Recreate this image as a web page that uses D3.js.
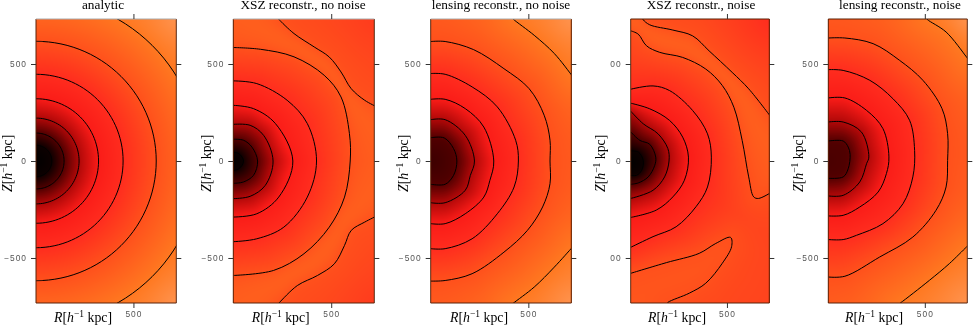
<!DOCTYPE html>
<html>
<head>
<meta charset="utf-8">
<script src="https://cdn.jsdelivr.net/npm/d3@7"></script>
<style>
body { margin: 0; background: #fff; }
canvas, svg { position: absolute; top: 0; left: 0; }
.tick text { font-family: "Liberation Sans", sans-serif; font-size: 8.4px; letter-spacing: 1px; fill: #555; }
.tick line { stroke: #333; }
.title, .lab { font-family: "Liberation Serif", serif; font-size: 13.3px; fill: #000; }
.lab { font-size: 13.8px; }
</style>
</head>
<body>
<script>
// titles and tick labels
var titles = ["analytic", "XSZ reconstr., no noise", "lensing reconstr., no noise", "XSZ reconstr., noise", "lensing reconstr., noise"];
var zTicks = [500, 0, -500];
var rTicks = [500];
var zLabelsOdd = ["00", "0", "00"];

// contour radii of the analytic panel, kpc
var analyticRadii = [81, 144, 221, 321, 447, 617, 843];

// contours as [R, Z] in kpc
var xszRings = [
    [[0, 45], [25, 40], [45, 20], [52, 0], [45, -22], [25, -42], [0, -48]],
    [[0, 112], [52, 107], [95, 72], [124, 0], [103, -74], [52, -108], [0, -115]],
    [[0, 189], [86, 184], [155, 132], [203, 0], [163, -126], [86, -182], [0, -194]],
    [[0, 287], [103, 270], [215, 193], [304, 0], [232, -186], [120, -272], [0, -289]],
    [[0, 413], [120, 399], [275, 313], [378, 193], [425, 0], [378, -186], [258, -341], [120, -401], [0, -416]],
    [[0, 585], [138, 576], [310, 537], [464, 442], [550, 330], [593, 141], [597, 0], [568, -186], [490, -341], [361, -478], [206, -564], [0, -590]]
];
var xszTop = [[225, 740], [232, 731], [310, 657], [413, 588], [490, 536], [550, 459], [602, 373], [671, 313], [735, 278]];
var xszBottom = [[735, -282], [671, -315], [602, -358], [568, -435], [516, -530], [430, -590], [327, -642], [232, -733], [225, -740]];

var lensRings = [
    [[0, 120], [69, 119], [117, 64], [134, 0], [117, -74], [74, -120], [0, -120]],
    [[0, 213], [74, 213], [177, 132], [224, 0], [203, -74], [177, -151], [74, -215], [0, -215]],
    [[0, 318], [74, 318], [177, 270], [272, 175], [323, 0], [303, -100], [272, -186], [177, -272], [74, -323], [0, -323]],
    [[0, 451], [74, 447], [212, 382], [341, 279], [435, 107], [449, 0], [427, -134], [341, -272], [212, -401], [74, -452], [0, -452]],
    [[0, 616], [74, 616], [220, 574], [375, 476], [504, 373], [581, 236], [611, 107], [611, 0], [611, -117], [573, -237], [495, -358], [375, -470], [212, -581], [74, -616], [0, -619]]
];
var lensTop = [[415, 740], [423, 731], [530, 648], [633, 554], [726, 437], [735, 425]];
var lensBottom = [[735, -434], [726, -444], [633, -547], [530, -650], [423, -733], [415, -740]];

var xszNoiseRings = [
    [[0, 52], [40, 46], [65, 3], [57, -48], [30, -74], [0, -74]],
    [[0, 150], [48, 106], [99, 86], [130, 20], [125, -22], [91, -82], [39, -113], [0, -120]],
    [[0, 257], [65, 192], [142, 140], [193, 64], [199, 0], [176, -82], [116, -151], [0, -193]],
    [[0, 298], [99, 269], [202, 209], [270, 123], [300, 20], [279, -99], [219, -185], [133, -253], [0, -291]],
    [[0, 370], [116, 387], [202, 363], [322, 260], [399, 140], [419, 20], [399, -134], [339, -236], [236, -339], [116, -390], [0, -445]]
];
var xszNoiseB = [[0, 671], [39, 654], [82, 594], [151, 560], [270, 534], [390, 474], [476, 389], [536, 277], [579, 106], [613, -82], [639, -185], [664, -193], [730, -162]];
var xszNoiseC = [[0, -579], [185, -524], [356, -476], [442, -425], [519, -394], [524, -442], [476, -527], [390, -630], [305, -681], [193, -729], [185, -740]];
var xszNoiseA = [[60, 740], [65, 728], [99, 702], [219, 675], [322, 645], [407, 568], [527, 457], [613, 372], [730, 225]];

var lensNoiseRings = [
    [[0, 103], [77, 103], [103, 72], [113, 34], [103, -40], [77, -82], [0, -89]],
    [[0, 201], [77, 201], [172, 149], [210, 21], [198, -14], [163, -108], [77, -177], [0, -180]],
    [[0, 325], [86, 325], [198, 261], [283, 167], [314, 21], [301, -65], [258, -160], [163, -237], [77, -280], [0, -283]],
    [[0, 471], [77, 467], [215, 416], [335, 321], [421, 210], [447, 55], [438, -82], [387, -220], [283, -323], [146, -383], [77, -405], [0, -405]],
    [[0, 634], [86, 634], [232, 605], [369, 519], [490, 416], [589, 270], [618, 141], [618, 3], [610, -134], [558, -254], [438, -392], [266, -495], [86, -594], [0, -598]]
];
var lensNoiseTop = [[505, 740], [512, 730], [610, 665], [716, 536], [730, 518]];
var lensNoiseBottom = [[730, -430], [716, -443], [627, -529], [524, -615], [373, -732], [360, -740]];

// colour at each contour level
var levels = [0, 1, 2, 3, 4, 5, 6, 7, 8];
var levelColors = ["#000000", "#0c0000", "#500000", "#b00808", "#fa1c18", "#ff2c1e", "#ff501c", "#ff7820", "#ff9450"];

// layout of the page
var lefts = [36, 233.3, 430.7, 630.7, 828.3];
var widths = [140.3, 141, 140.6, 138.6, 139];
var top0 = 19, bottom0 = 303;
var titleX = [103, 303, 501, 701, 900];
var zLabelX = [11.5, 211, 408, 605, 802.7];
var rLabelX = [54, 251.7, 450, 648, 845];
var edgeTop = ["#aaa", "#aaa", "#aaa", "#5a2208", "#5a2208"];

var color = d3.scaleLinear().domain(levels).range(levelColors);
var colorTable = d3.range(0, 801).map(function (i) { return d3.rgb(color(i / 100)); });

function halfCircle(r) {
    return d3.range(-90, 91, 3).map(function (a) {
        return [r * Math.cos(a * Math.PI / 180), r * Math.sin(a * Math.PI / 180)];
    });
}
function ring(pts, level) { return { level: level, ring: true, pieces: [{ pts: pts, poly: pts }] }; }
function piece(pts, close) { return { pts: pts, poly: pts.concat(close) }; }

var TR = [735, 740], BR = [735, -740];

var panels = [
    {
        contours: analyticRadii.map(function (r, i) { return ring(halfCircle(r), i + 1); }),
        center: 0, corner: 8
    },
    {
        contours: xszRings.map(function (p, i) { return ring(p, i + 1); }).concat([
            { level: 6, ridge: 0.35, pieces: [piece(xszTop, [TR]), piece(xszBottom, [BR])] }
        ]),
        center: 0, corner: 5.4
    },
    {
        contours: lensRings.map(function (p, i) { return ring(p, i + 2); }).concat([
            { level: 7, pieces: [piece(lensTop, [TR]), piece(lensBottom, [BR])] }
        ]),
        center: 1.7, corner: 8
    },
    {
        contours: xszNoiseRings.map(function (p, i) { return ring(p, i + 1); }).concat([
            { level: 6, pieces: [piece(xszNoiseB, [[730, 740], [-10, 740], [-10, 671]]), piece(xszNoiseC, [[-10, -740], [-10, -579]])] },
            { level: 6, ridge: 0.35, pieces: [piece(xszNoiseA, [[730, 740]])] }
        ]),
        center: 0, corner: 5
    },
    {
        contours: lensNoiseRings.map(function (p, i) { return ring(p, i + 2); }).concat([
            { level: 7, pieces: [piece(lensNoiseTop, [[730, 740]]), piece(lensNoiseBottom, [[730, -740]])] }
        ]),
        center: 1.9, corner: 8
    }
];

function segDist(p, a, b) {
    var dx = b[0] - a[0], dy = b[1] - a[1];
    var t = ((p[0] - a[0]) * dx + (p[1] - a[1]) * dy) / (dx * dx + dy * dy);
    t = Math.max(0, Math.min(1, t));
    return Math.hypot(p[0] - a[0] - t * dx, p[1] - a[1] - t * dy);
}
function contourDist(c, p) {
    var best = Infinity;
    c.pieces.forEach(function (pc) {
        for (var i = 1; i < pc.pts.length; i++) {
            var d = segDist(p, pc.pts[i - 1], pc.pts[i]);
            if (d < best) best = d;
        }
    });
    return best;
}
function insideContour(c, p) {
    if (c.ring) return d3.polygonContains(c.pieces[0].poly, p);
    return !c.pieces.some(function (pc) { return d3.polygonContains(pc.poly, p); });
}

// value at a point, from the two contours on each side of it
function fieldValue(panel, p) {
    var cs = panel.contours, k = 0;
    while (k < cs.length && !insideContour(cs[k], p)) k++;
    if (k == 0) {
        var d0 = contourDist(cs[0], p), dc = Math.hypot(p[0], p[1]);
        return panel.center + (cs[0].level - panel.center) * dc / (dc + d0);
    }
    var din = contourDist(cs[k - 1], p);
    if (k == cs.length) {
        var cd = Math.min(Math.hypot(p[0] - 720, p[1] - 732), Math.hypot(p[0] - 720, p[1] + 732));
        return cs[k - 1].level + (panel.corner - cs[k - 1].level) * din / (din + cd);
    }
    var dout = contourDist(cs[k], p), t = din / (din + dout);
    var v = cs[k - 1].level + (cs[k].level - cs[k - 1].level) * t;
    if (cs[k].ridge) v += cs[k].ridge * 4 * t * (1 - t);
    return v;
}

var svg = d3.select("body").append("svg").attr("width", 974).attr("height", 325);

panels.forEach(function (panel, n) {
    var x = d3.scaleLinear().domain([0, 720]).range([lefts[n], lefts[n] + widths[n]]);
    var y = d3.scaleLinear().domain([-732, 732]).range([bottom0, top0]);
    var w = Math.round(widths[n]), h = bottom0 - top0;

    // image of the field
    var canvas = d3.select("body").insert("canvas", "svg")
        .attr("width", w).attr("height", h)
        .style("left", lefts[n] + "px").style("top", top0 + "px");
    var ctx = canvas.node().getContext("2d");
    var img = ctx.createImageData(w, h);
    var field = new Float32Array(w * h);
    for (var j = 0; j < h; j++) {
        for (var i = 0; i < w; i++) {
            field[j * w + i] = fieldValue(panel, [x.invert(lefts[n] + i + 0.5), y.invert(top0 + j + 0.5)]);
        }
    }
    // smooth the creases that the distances leave between contours
    if (d3.blur2) d3.blur2({ data: field, width: w, height: h }, 3);
    for (var o = 0; o < field.length; o++) {
        var c = colorTable[Math.max(0, Math.min(800, Math.round(field[o] * 100)))];
        img.data[o * 4] = c.r; img.data[o * 4 + 1] = c.g; img.data[o * 4 + 2] = c.b; img.data[o * 4 + 3] = 255;
    }
    ctx.putImageData(img, 0, 0);

    var g = svg.append("g");
    g.append("clipPath").attr("id", "clip" + n).append("rect")
        .attr("x", lefts[n]).attr("y", top0).attr("width", widths[n]).attr("height", h);

    // contours
    var line = d3.line().x(function (d) { return x(d[0]); }).y(function (d) { return y(d[1]); }).curve(d3.curveCatmullRom);
    panel.contours.forEach(function (c) {
        c.pieces.forEach(function (pc) {
            g.append("path").attr("d", line(pc.pts))
                .attr("clip-path", "url(#clip" + n + ")")
                .attr("fill", "none").attr("stroke", "#000").attr("stroke-width", 1);
        });
    });

    // frame
    g.append("path").attr("fill", "none").attr("stroke", "#5a2208")
        .attr("d", "M" + x(0) + "," + top0 + "V" + bottom0 + "H" + x(720) + "V" + top0);
    g.append("line").attr("x1", x(0)).attr("x2", x(720)).attr("y1", top0).attr("y2", top0).attr("stroke", edgeTop[n]);

    // axes
    var left = d3.axisLeft(y).tickValues(zTicks).tickSize(5).tickPadding(4);
    if (n == 3) left.tickFormat(function (d, i) { return zLabelsOdd[i]; });
    else left.tickFormat(function (d) { return d < 0 ? "\u2212" + (-d) : d; });
    g.append("g").attr("transform", "translate(" + x(0) + ",0)").call(left).call(function (a) { a.select(".domain").remove(); });
    g.append("g").attr("transform", "translate(" + x(720) + ",0)")
        .call(d3.axisRight(y).tickValues(zTicks).tickSize(5).tickFormat(""))
        .call(function (a) { a.select(".domain").remove(); });
    g.append("g").attr("transform", "translate(0," + bottom0 + ")")
        .call(d3.axisBottom(x).tickValues(rTicks).tickSize(5).tickPadding(3))
        .call(function (a) { a.select(".domain").remove(); });
    g.append("g").attr("transform", "translate(0," + top0 + ")")
        .call(d3.axisTop(x).tickValues(rTicks).tickSize(5).tickFormat(""))
        .call(function (a) { a.select(".domain").remove(); });

    // titles and axis labels
    svg.append("text").attr("class", "title").attr("x", titleX[n]).attr("y", 8.5)
        .attr("text-anchor", "middle").text(titles[n]);
    axisLabel(svg.append("text").attr("class", "lab").attr("x", rLabelX[n]).attr("y", 322), "R");
    axisLabel(svg.append("text").attr("class", "lab")
        .attr("transform", "translate(" + zLabelX[n] + ",192) rotate(-90)"), "Z");
});

function axisLabel(t, name) {
    t.append("tspan").attr("font-style", "italic").text(name);
    t.append("tspan").text("[");
    t.append("tspan").attr("font-style", "italic").text("h");
    t.append("tspan").attr("font-size", "9.5px").attr("dy", -5).text("\u22121");
    t.append("tspan").attr("dy", 5).text(" kpc]");
}
</script>
</body>
</html>
